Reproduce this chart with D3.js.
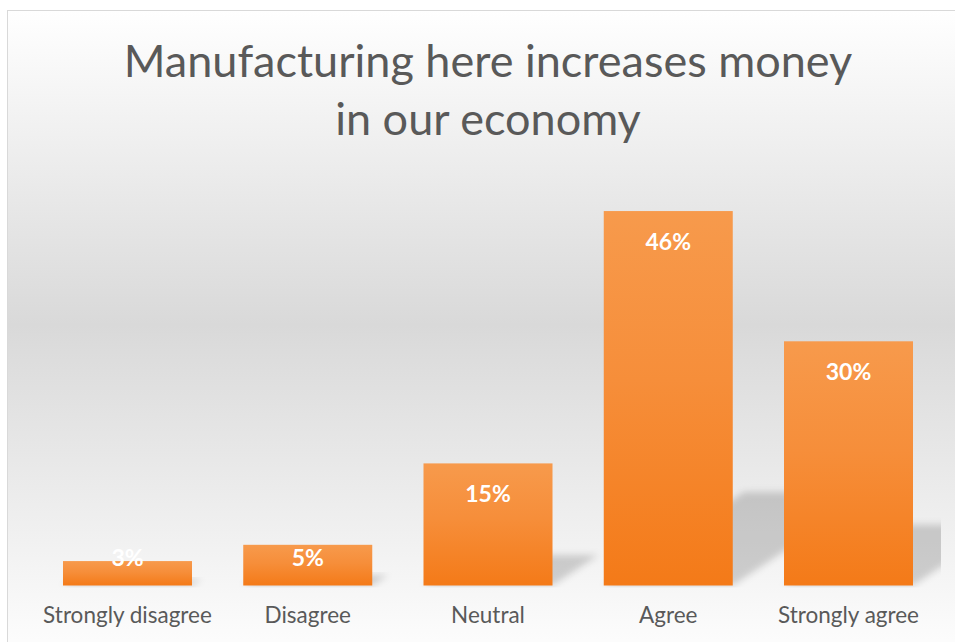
<!DOCTYPE html>
<html>
<head>
<meta charset="utf-8">
<script src="https://cdn.jsdelivr.net/npm/d3@7/dist/d3.min.js"></script>
<style>
  html, body { margin: 0; padding: 0; background: #ffffff; }
  svg { display: block; }
</style>
</head>
<body>
<svg id="chart" width="955" height="642"></svg>
<script>
// Survey responses
const categories = ["Strongly disagree", "Disagree", "Neutral", "Agree", "Strongly agree"];
const values = [3, 5, 15, 46, 30];
const titleLines = ["Manufacturing here increases money", "in our economy"];

const W = 955, H = 642;
const svg = d3.select("#chart");
const defs = svg.append("defs");
const font = "Lato, 'Open Sans', sans-serif";

// Chart area background: white fading to grey and back
const bg = defs.append("linearGradient")
  .attr("id", "bgGrad").attr("gradientUnits", "userSpaceOnUse")
  .attr("x1", 0).attr("y1", 10).attr("x2", 0).attr("y2", 640);
bg.append("stop").attr("offset", 0).attr("stop-color", "#ffffff");
bg.append("stop").attr("offset", 0.5).attr("stop-color", "#d9d9d9");
bg.append("stop").attr("offset", 1).attr("stop-color", "#fcfcfc");

// Bar fill: lighter orange at the top, deeper at the base
const barGrad = defs.append("linearGradient")
  .attr("id", "barGrad").attr("x1", 0).attr("y1", 0).attr("x2", 0).attr("y2", 1);
barGrad.append("stop").attr("offset", 0).attr("stop-color", "#f79a4c");
barGrad.append("stop").attr("offset", 0.45).attr("stop-color", "#f68e3a");
barGrad.append("stop").attr("offset", 1).attr("stop-color", "#f47a18");

// Soft blur for the perspective shadows
defs.append("filter").attr("id", "shadowBlur")
  .attr("x", "-20%").attr("y", "-30%").attr("width", "140%").attr("height", "160%")
  .append("feGaussianBlur").attr("stdDeviation", 3.5);

// Chart frame
svg.append("rect")
  .attr("x", 7.5).attr("y", 10.5)
  .attr("width", 1000).attr("height", 700)
  .attr("fill", "url(#bgGrad)")
  .attr("stroke", "#d9d9d9").attr("stroke-width", 1);

// Plot area
const plot = { left: 37.4, right: 938.6, top: 178.5, bottom: 585.5 };

defs.append("clipPath").attr("id", "plotClip")
  .append("rect")
  .attr("x", plot.left).attr("y", plot.top - 40)
  .attr("width", 941 - plot.left).attr("height", plot.bottom - plot.top + 42);

const x = d3.scaleBand()
  .domain(categories)
  .range([plot.left, plot.right])
  .paddingInner(0.2843)
  .paddingOuter(0.142);

const y = d3.scaleLinear()
  .domain([0, 50])
  .range([plot.bottom, plot.top]);

const data = categories.map((c, i) => ({ cat: c, val: values[i] }));

// Perspective shadows cast to the right of each bar
const shadowK = 0.25, skew = 1.5;
svg.append("g")
  .attr("clip-path", "url(#plotClip)")
  .selectAll("path")
  .data(data)
  .join("path")
  .attr("filter", "url(#shadowBlur)")
  .attr("fill", "#000")
  .attr("fill-opacity", 0.17)
  .attr("d", d => {
    const x0 = x(d.cat), x1 = x0 + x.bandwidth();
    const base = y(0);
    const hs = (base - y(d.val)) * shadowK;
    const dx = hs * skew;
    return `M${x0},${base} L${x1},${base} L${x1 + dx},${base - hs} L${x0 + dx},${base - hs} Z`;
  });

// Bars
svg.append("g")
  .selectAll("rect")
  .data(data)
  .join("rect")
  .attr("x", d => x(d.cat))
  .attr("y", d => y(d.val))
  .attr("width", x.bandwidth())
  .attr("height", d => y(0) - y(d.val))
  .attr("fill", "url(#barGrad)");

// Value labels inside the bar ends
svg.append("g")
  .selectAll("text")
  .data(data)
  .join("text")
  .attr("x", d => x(d.cat) + x.bandwidth() / 2)
  .attr("y", d => Math.min(y(d.val) + 39, y(0) - 19.5))
  .attr("text-anchor", "middle")
  .attr("font-family", font)
  .attr("font-weight", 700)
  .attr("font-size", 23)
  .attr("fill", "#ffffff")
  .text(d => d.val + "%");

// Category axis (labels only)
const xAxis = d3.axisBottom(x).tickSize(0).tickPadding(0);
const axisG = svg.append("g")
  .attr("transform", `translate(0, ${plot.bottom})`)
  .call(xAxis);
axisG.select(".domain").remove();
axisG.selectAll("text")
  .attr("y", 37.5)
  .attr("dy", null)
  .attr("font-family", font)
  .attr("font-size", 22.5)
  .attr("fill", "#595959");

// Title
const title = svg.append("text")
  .attr("text-anchor", "middle")
  .attr("font-family", font)
  .attr("font-size", 45)
  .attr("fill", "#595959");
title.selectAll("tspan")
  .data(titleLines)
  .join("tspan")
  .attr("x", (plot.left + plot.right) / 2)
  .attr("y", (d, i) => 76.5 + i * 58)
  .text(d => d);
</script>
</body>
</html>
